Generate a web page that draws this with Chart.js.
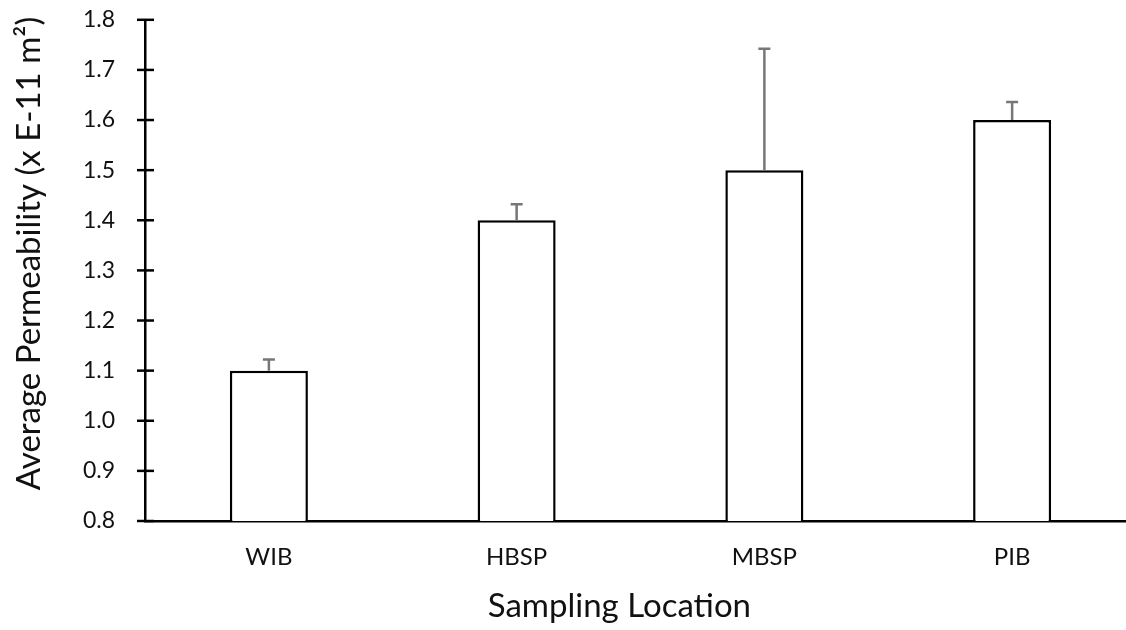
<!DOCTYPE html>
<html>
<head>
<meta charset="utf-8">
<script src="https://cdn.jsdelivr.net/npm/chart.js@4"></script>
<style>
  html,body{margin:0;padding:0;background:#fff;overflow:hidden;width:1126px;height:630px;}
  #wrap{position:relative;width:1126px;height:630px;overflow:hidden;}
  #chart{position:absolute;left:0;top:-24px;}
</style>
</head>
<body>
<div id="wrap"><canvas id="chart" width="1140" height="654"></canvas></div>
<script>
const locations = ["WIB", "HBSP", "MBSP", "PIB"];
const permeability = [1.1, 1.4, 1.5, 1.6];
const errUpper = [0.022, 0.032, 0.242, 0.036];

const FONT = "Lato, 'Open Sans', sans-serif";

// error bars (upper only) + ticks crossing the y axis
const extras = {
  id: "extras",
  afterDatasetsDraw(c){
    const ctx = c.ctx;
    const y = c.scales.y;
    const meta = c.getDatasetMeta(0);
    ctx.save();
    ctx.strokeStyle = "#777";
    ctx.lineWidth = 2.5;
    meta.data.forEach((bar, i)=>{
      const top = y.getPixelForValue(permeability[i]);
      const cap = y.getPixelForValue(permeability[i] + errUpper[i]);
      ctx.beginPath();
      ctx.moveTo(bar.x, top);
      ctx.lineTo(bar.x, cap);
      ctx.moveTo(bar.x - 6, cap);
      ctx.lineTo(bar.x + 6, cap);
      ctx.stroke();
    });
    ctx.strokeStyle = "#000";
    ctx.lineWidth = 2.5;
    const x0 = c.chartArea.left;
    y.ticks.forEach(t=>{
      const py = y.getPixelForValue(t.value);
      ctx.beginPath();
      ctx.moveTo(x0 - 8, py);
      ctx.lineTo(x0 + 9, py);
      ctx.stroke();
    });
    ctx.restore();
  }
};

new Chart(document.getElementById("chart"), {
  type: "bar",
  data: {
    labels: locations,
    datasets: [{
      data: permeability,
      backgroundColor: "#fff",
      borderColor: "#000",
      borderWidth: 2.5,
      categoryPercentage: 1,
      barPercentage: 0.315
    }]
  },
  options: {
    responsive: false,
    animation: false,
    layout: { padding: { top: 0, right: 4, left: 0, bottom: 0 } },
    plugins: { legend: { display: false }, tooltip: { enabled: false } },
    scales: {
      x: {
        grid: { display: false, drawTicks: false },
        border: { color: "#000", width: 2.5 },
        ticks: { color: "#111", font: { family: FONT, size: 24 }, padding: 22 },
        title: { display: true, text: "Sampling Location     ", color: "#111",
                 font: { family: FONT, size: 33 }, padding: { top: 8 } },
        afterFit: s => { s.height = 109; }
      },
      y: {
        min: 0.8, max: 1.8,
        grid: { display: false, drawTicks: false },
        border: { color: "#000", width: 2.5 },
        ticks: { stepSize: 0.1, color: "#111", font: { family: FONT, size: 23 }, padding: 30,
                 callback: v => Number(v).toFixed(1) },
        title: { display: true, text: "    Average Permeability (x E-11 m²)", color: "#111",
                 font: { family: FONT, size: 33 }, padding: { top: 10, bottom: 4 } },
        afterFit: s => { s.width = 145; }
      }
    }
  },
  plugins: [extras]
});
</script>
</body>
</html>
